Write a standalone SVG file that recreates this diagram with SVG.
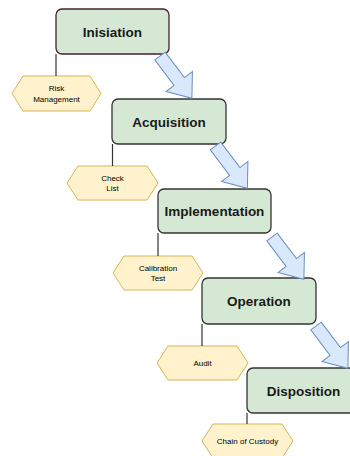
<svg xmlns="http://www.w3.org/2000/svg" width="350" height="456" viewBox="0 0 350 456">
<style>
.box{fill:#d5e8d4;stroke:#333333;stroke-width:1.3}
.box1{stroke:#4a1f2e}
.hex{fill:#fff2cc;stroke:#d6b656;stroke-width:1}
.t{font-family:"Liberation Sans",Arial,sans-serif;font-weight:bold;font-size:13.5px;fill:#1a1a1a;text-anchor:middle}
.s{font-family:"Liberation Sans",Arial,sans-serif;font-size:8px;fill:#000;text-anchor:middle}
.ln{stroke:#333333;stroke-width:1.2;fill:none}
.arr{fill:#dae8fc;stroke:#6c8ebf;stroke-width:1}
</style>
<defs>
<polygon id="fa" points="0,-6.5 32,-6.5 32,-16.5 53,0 32,16.5 32,6.5 0,6.5"/>
</defs>
<rect width="350" height="456" fill="#ffffff"/>
<g id="n-inisiation">
<rect class="box box1" x="56" y="9" width="113" height="45" rx="6"/>
<text class="t" x="112.5" y="36.5">Inisiation</text>
</g>
<g id="n-risk">
<polygon class="hex" points="12,93.5 23,76 90,76 101,93.5 90,111 23,111"/>
<text class="s" x="56.5" y="91">Risk</text>
<text class="s" x="56.5" y="101.5">Management</text>
</g>
<g id="n-acquisition">
<rect class="box" x="112" y="99" width="114" height="45" rx="6"/>
<text class="t" x="169" y="126.5">Acquisition</text>
</g>
<g id="n-checklist">
<polygon class="hex" points="67,183 78,166 147,166 158,183 147,200 78,200"/>
<text class="s" x="112.5" y="180.5">Check</text>
<text class="s" x="112.5" y="191">List</text>
</g>
<g id="n-implementation">
<rect class="box" x="158" y="189" width="113" height="44" rx="6"/>
<text class="t" x="214.5" y="216">Implementation</text>
</g>
<g id="n-calibration">
<polygon class="hex" points="113,273 124,256 192,256 203,273 192,290 124,290"/>
<text class="s" x="158" y="270.5">Calibration</text>
<text class="s" x="158" y="281">Test</text>
</g>
<g id="n-operation">
<rect class="box" x="202" y="278" width="114" height="46" rx="6"/>
<text class="t" x="259" y="305.5">Operation</text>
</g>
<g id="n-audit">
<polygon class="hex" points="157,363 168,346 237,346 248,363 237,380 168,380"/>
<text class="s" x="202.5" y="366">Audit</text>
</g>
<g id="n-disposition">
<rect class="box" x="247" y="368" width="113" height="45" rx="6"/>
<text class="t" x="303.5" y="395.5">Disposition</text>
</g>
<g id="n-custody">
<polygon class="hex" points="202,441 213,424 282,424 293,441 282,458 213,458"/>
<text class="s" x="247.5" y="444">Chain of Custody</text>
</g>
<g id="connectors">
<line class="ln" x1="56" y1="54" x2="56" y2="76"/>
<line class="ln" x1="112.5" y1="144" x2="112.5" y2="166"/>
<line class="ln" x1="158" y1="233" x2="158" y2="256"/>
<line class="ln" x1="202" y1="324" x2="202" y2="346"/>
<line class="ln" x1="247" y1="413" x2="247" y2="424"/>
<use href="#fa" class="arr" transform="translate(160,56) rotate(53)"/>
<use href="#fa" class="arr" transform="translate(215.5,146) rotate(53)"/>
<use href="#fa" class="arr" transform="translate(272,237) rotate(53)"/>
<use href="#fa" class="arr" transform="translate(316,326) rotate(53)"/>
</g>
</svg>
